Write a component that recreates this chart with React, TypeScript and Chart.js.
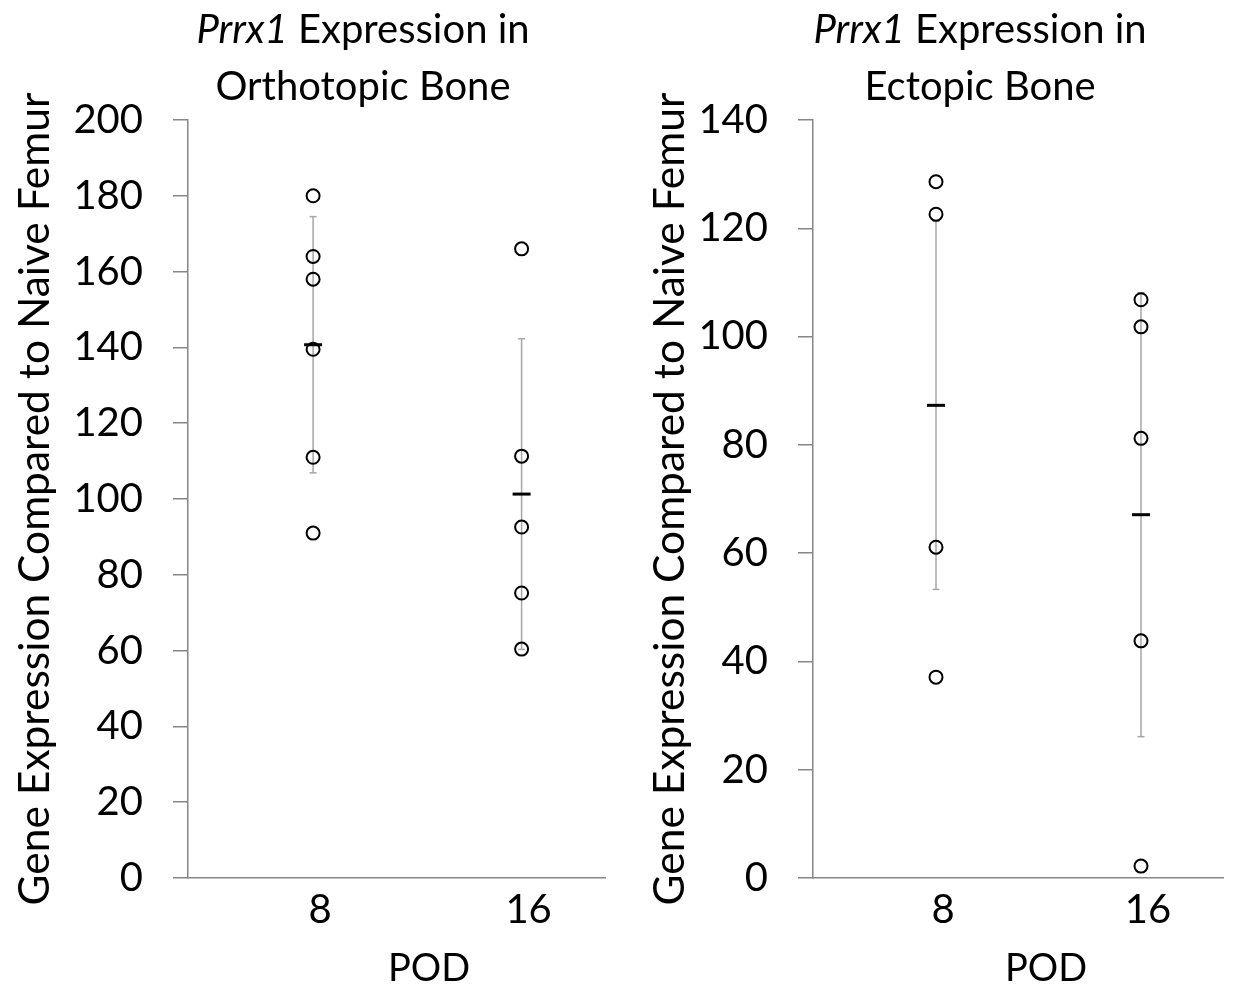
import React, { useEffect, useRef } from "react";
import { Chart, registerables } from "chart.js";

Chart.register(...registerables);

const FONT = "Lato, 'Open Sans', sans-serif";

// Categories (post-operative day) placed at x = 1, 2
const CATEGORIES = ["8", "16"];
const CAT_X = [1, 2];

// Orthotopic bone (left panel)
const ORTHO_POD8 = [180, 164, 158, 139.5, 111, 91];
const ORTHO_POD16 = [166, 111.3, 92.6, 75.2, 60.4];
const ORTHO_MEAN = [140.7, 101.3];
const ORTHO_ERR = [33.8, 41];
const ORTHO_YMAX = 200;

// Ectopic bone (right panel)
const ECTO_POD8 = [128.6, 122.6, 61.1, 37.1];
const ECTO_POD16 = [106.8, 101.8, 81.2, 43.8, 2.2];
const ECTO_MEAN = [87.3, 67.1];
const ECTO_ERR = [34, 41];
const ECTO_YMAX = 140;

const Y_STEP = 20;
const Y_TITLE = "Gene Expression Compared to Naive Femur";
const X_TITLE = "POD";

const textPlugin = {
  id: "panelText",
  afterDraw(chart: any, _args: any, opts: any) {
    const ctx = chart.ctx;
    ctx.save();
    ctx.fillStyle = "#000";
    ctx.textBaseline = "alphabetic";
    const f = (style: string, size: number) => `${style} ${size}px ${FONT}`;
    ctx.font = f("italic", opts.size);
    const w1 = ctx.measureText(opts.gene).width;
    ctx.font = f("normal", opts.size);
    const w2 = ctx.measureText(opts.line1).width;
    const x0 = opts.cx - (w1 + w2) / 2;
    ctx.textAlign = "left";
    ctx.font = f("italic", opts.size);
    ctx.fillText(opts.gene, x0, opts.y1);
    ctx.font = f("normal", opts.size);
    ctx.fillText(opts.line1, x0 + w1, opts.y1);
    ctx.textAlign = "center";
    ctx.fillText(opts.line2, opts.cx, opts.y2);
    ctx.font = f("normal", opts.xSize);
    ctx.fillText(opts.xTitle, opts.xcx, opts.xy);
    ctx.restore();
  },
};

type PanelProps = {
  width: number;
  pod8: number[];
  pod16: number[];
  mean: number[];
  err: number[];
  ymax: number;
  line2: string;
  yAxisWidth: number;
  yTitlePad: number;
  rightPad: number;
};

function Panel(p: PanelProps) {
  const ref = useRef<HTMLCanvasElement>(null);
  useEffect(() => {
    if (!ref.current) return;
    const pts = [
      ...p.pod8.map((v) => ({ x: CAT_X[0], y: v })),
      ...p.pod16.map((v) => ({ x: CAT_X[1], y: v })),
    ];
    const means = p.mean.map((m, i) => ({ x: CAT_X[i], y: m }));
    const errLine: any[] = [];
    const caps: any[] = [];
    p.mean.forEach((m, i) => {
      errLine.push({ x: CAT_X[i], y: m - p.err[i] });
      errLine.push({ x: CAT_X[i], y: m + p.err[i] });
      errLine.push({ x: CAT_X[i], y: null });
      caps.push({ x: CAT_X[i], y: m - p.err[i] });
      caps.push({ x: CAT_X[i], y: m + p.err[i] });
    });
    const gray = "#a6a6a6";
    const axisGray = "#868686";
    const chart = new Chart(ref.current, {
      type: "scatter",
      data: {
        datasets: [
          {
            data: pts,
            pointStyle: "circle",
            pointRadius: 6.5,
            pointBorderWidth: 2,
            pointBorderColor: "#000",
            pointBackgroundColor: "rgba(0,0,0,0)",
          },
          {
            data: means,
            pointStyle: "line",
            pointRadius: 9,
            pointBorderWidth: 3,
            pointBorderColor: "#000",
          },
          {
            data: caps,
            pointStyle: "line",
            pointRadius: 3.5,
            pointBorderWidth: 1.5,
            pointBorderColor: gray,
          },
          {
            data: errLine,
            showLine: true,
            spanGaps: false,
            pointRadius: 0,
            borderColor: gray,
            borderWidth: 1.5,
          },
        ],
      } as any,
      options: {
        animation: false,
        responsive: false,
        events: [],
        layout: { padding: { top: 120, right: p.rightPad, left: 0, bottom: 0 } },
        plugins: {
          legend: { display: false },
          tooltip: { enabled: false },
          panelText: {
            gene: "Prrx1",
            line1: " Expression in",
            line2: p.line2,
            size: 40,
            cx: 363,
            y1: 43,
            y2: 100,
            xTitle: X_TITLE,
            xSize: 38,
            xcx: 429,
            xy: 981,
          },
        } as any,
        scales: {
          x: {
            type: "linear",
            min: 0.4,
            max: 2.4,
            afterBuildTicks: (s: any) => {
              s.ticks = CAT_X.map((v) => ({ value: v }));
            },
            afterFit: (s: any) => {
              s.height = 110;
            },
            ticks: {
              callback: (v: any) => CATEGORIES[CAT_X.indexOf(Number(v))] ?? "",
              font: { family: FONT, size: 40 },
              color: "#000",
              padding: 8,
              labelOffset: 7,
              autoSkip: false,
              maxRotation: 0,
            },
            grid: { drawOnChartArea: false, drawTicks: false },
            border: { display: true, color: axisGray, width: 1.5 },
          },
          y: {
            min: 0,
            max: p.ymax,
            afterFit: (s: any) => {
              s.width = p.yAxisWidth;
            },
            ticks: {
              stepSize: Y_STEP,
              font: { family: FONT, size: 40 },
              color: "#000",
              padding: 30,
            },
            grid: {
              drawOnChartArea: false,
              drawTicks: true,
              tickLength: 15,
              color: axisGray,
              lineWidth: 1.5,
            },
            border: { display: true, color: axisGray, width: 1.5 },
            title: {
              display: true,
              text: Y_TITLE,
              font: { family: FONT, size: 42.5 },
              color: "#000",
              padding: { top: p.yTitlePad, bottom: 0 },
            },
          },
        },
      } as any,
      plugins: [textPlugin],
    });
    return () => chart.destroy();
  }, []);
  return <canvas ref={ref} width={p.width} height={988} style={{ display: "block" }} />;
}

export default function App() {
  return (
    <div
      style={{
        position: "absolute",
        left: 0,
        top: 0,
        width: 1235,
        height: 988,
        display: "flex",
        background: "#fff",
      }}
    >
      <Panel
        width={617}
        pod8={ORTHO_POD8}
        pod16={ORTHO_POD16}
        mean={ORTHO_MEAN}
        err={ORTHO_ERR}
        ymax={ORTHO_YMAX}
        line2="Orthotopic Bone"
        yAxisWidth={188}
        yTitlePad={10}
        rightPad={11}
      />
      <Panel
        width={618}
        pod8={ECTO_POD8}
        pod16={ECTO_POD16}
        mean={ECTO_MEAN}
        err={ECTO_ERR}
        ymax={ECTO_YMAX}
        line2="Ectopic Bone"
        yAxisWidth={196}
        yTitlePad={28}
        rightPad={3}
      />
    </div>
  );
}
